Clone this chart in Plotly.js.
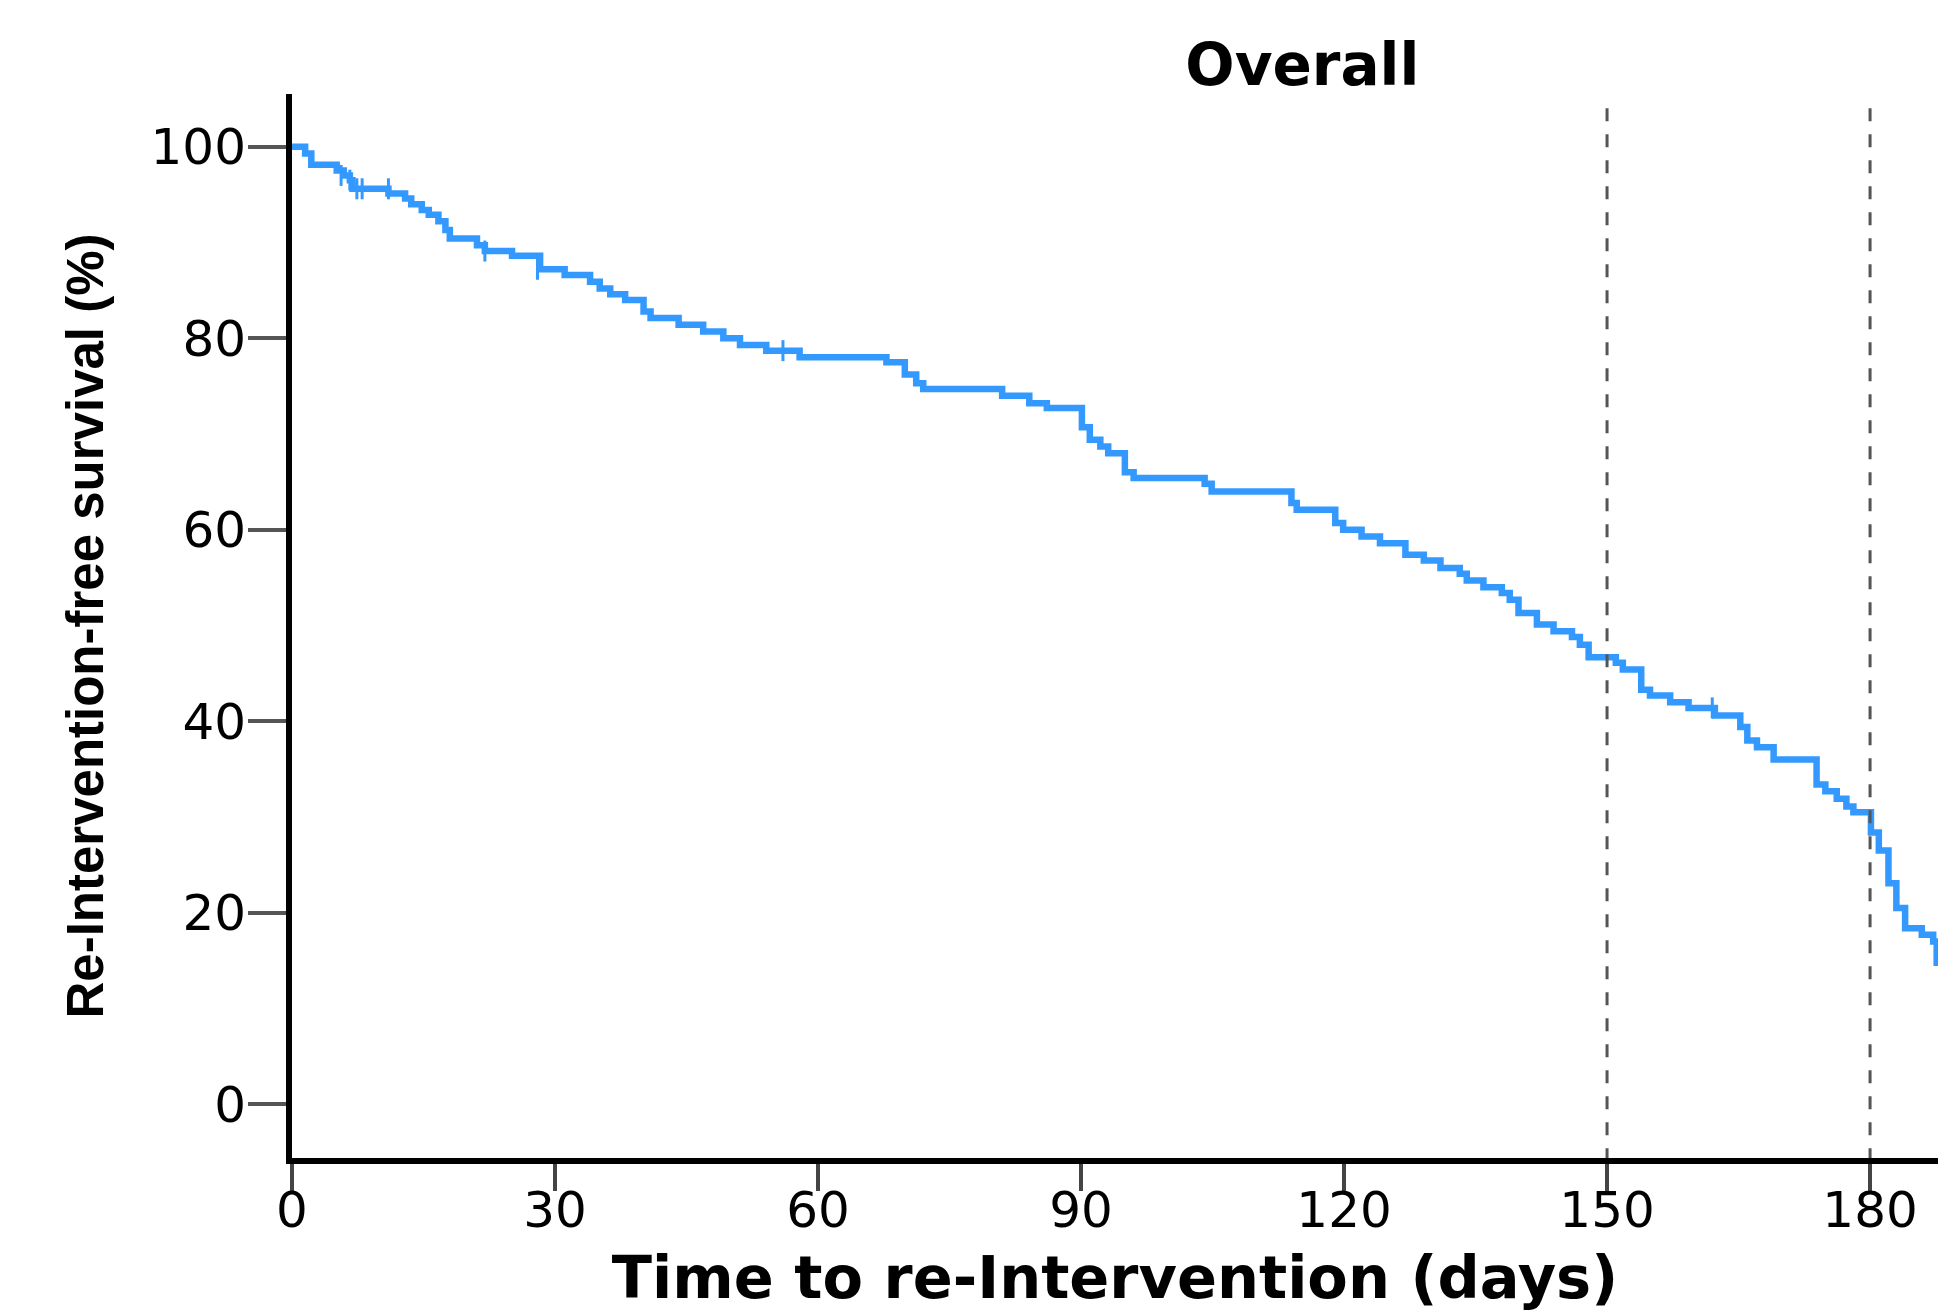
<!DOCTYPE html>
<html>
<head>
<meta charset="utf-8">
<script src="https://cdn.plot.ly/plotly-3.0.1.min.js"></script>
<style>
  html, body { margin: 0; padding: 0; background: #ffffff; }
  #chart { width: 1938px; height: 1312px; }
</style>
</head>
<body>
<div id="chart"></div>
<script>
// Kaplan-Meier step curve: time of each drop (days) and survival (%) after it
const days = [0, 1.5, 2.2, 5.1, 5.9, 6.6, 6.9, 11.0, 12.9, 13.6, 14.8, 15.6, 16.7, 17.5, 18.0,
  21.1, 22.0, 25.1, 28.3, 31.1, 34.0, 35.1, 36.3, 38.0, 40.1, 40.9, 44.1, 46.9, 49.2, 51.1,
  54.1, 57.9, 67.8, 69.9, 71.2, 72.0, 81.0, 84.1, 86.1, 90.1, 91.0, 92.2, 93.1, 95.0, 96.0,
  104.1, 104.9, 114.0, 114.6, 119.0, 119.9, 122.0, 124.1, 127.0, 129.1, 131.0, 133.2, 134.0,
  135.9, 138.0, 138.9, 139.9, 142.0, 143.9, 146.0, 146.9, 147.9, 151.0, 151.8, 153.9, 154.9,
  157.2, 159.3, 162.3, 165.2, 166.0, 167.1, 169.0, 173.9, 174.9, 176.2, 177.3, 178.1, 180.1,
  181.0, 182.1, 183.0, 184.0, 185.9, 187.2, 187.6, 192.0];
const survival = [100, 99.3, 98.1, 97.5, 97.0, 96.5, 95.6, 95.1, 94.6, 94.0, 93.4, 92.9, 92.2, 91.3, 90.4,
  89.7, 89.1, 88.6, 87.2, 86.6, 85.9, 85.2, 84.6, 84.0, 82.8, 82.1, 81.4, 80.7, 80.0, 79.3,
  78.7, 78.0, 77.5, 76.2, 75.3, 74.7, 74.0, 73.2, 72.7, 70.7, 69.4, 68.7, 68.0, 66.0, 65.4,
  64.8, 64.0, 62.8, 62.1, 60.7, 60.0, 59.3, 58.6, 57.4, 56.8, 56.0, 55.4, 54.7,
  54.0, 53.4, 52.7, 51.3, 50.1, 49.4, 48.8, 48.0, 46.7, 46.1, 45.4, 43.3, 42.7,
  42.0, 41.4, 40.6, 39.4, 38.0, 37.3, 36.0, 33.4, 32.7, 31.9, 31.1, 30.5, 28.4,
  26.5, 23.1, 20.5, 18.4, 17.7, 17.0, 14.8, 14.8];

// Censored observations (tick marks on the curve)
const censorDays = [5.6, 6.6, 7.4, 8.0, 11.0, 22.0, 28.0, 56.0, 162.0];
const censorSurvival = [97.0, 96.5, 95.6, 95.6, 95.6, 89.1, 87.2, 78.7, 41.4];

// Reference (dashed) time points
const refDays = [150, 180];

// Axis ticks
const xTicks = [0, 30, 60, 90, 120, 150, 180];
const yTicks = [0, 20, 40, 60, 80, 100];

const titleText = 'Overall';
const xTitle = 'Time to re-Intervention (days)';
const yTitle = 'Re-Intervention-free survival (%)';

const blue = 'rgb(51,153,255)';

const traces = [
  {
    x: days, y: survival, type: 'scatter', mode: 'lines',
    line: { shape: 'hv', color: blue, width: 6.5 },
    hoverinfo: 'skip', showlegend: false
  },
  {
    x: censorDays, y: censorSurvival, type: 'scatter', mode: 'markers',
    marker: { symbol: 'line-ns', size: 15, color: blue, line: { color: blue, width: 3 } },
    hoverinfo: 'skip', showlegend: false
  }
];

const shapes = refDays.map(d => ({
  type: 'line', xref: 'x', yref: 'y', x0: d, x1: d, y0: 104, y1: -5.6,
  line: { color: '#555555', width: 3, dash: '13px,13px' }, layer: 'above'
}));

const layout = {
  width: 1938, height: 1312,
  paper_bgcolor: '#ffffff', plot_bgcolor: '#ffffff',
  margin: { l: 292, r: 0, t: 94, b: 154 },
  showlegend: false,
  title: {
    text: titleText, xref: 'container', x: 0.672, xanchor: 'center',
    yref: 'container', y: 0.9505, yanchor: 'middle',
    font: { family: 'DejaVu Sans', size: 58, color: '#000000', weight: 'bold' }
  },
  xaxis: {
    range: [0, 187.75], showgrid: false, zeroline: false,
    showline: true, linecolor: '#000000', linewidth: 6,
    tickmode: 'array', tickvals: xTicks, ticktext: xTicks.map(String),
    ticks: 'outside', ticklen: 27, tickwidth: 4, tickcolor: '#444444',
    ticklabelstandoff: -24,
    tickfont: { family: 'DejaVu Sans', size: 50, color: '#000000' },
    title: { text: xTitle, standoff: 24,
      font: { family: 'DejaVu Sans', size: 59, color: '#000000', weight: 'bold' } }
  },
  yaxis: {
    range: [-5.6, 105.5], showgrid: false, zeroline: false,
    showline: true, linecolor: '#000000', linewidth: 6,
    tickmode: 'array', tickvals: yTicks, ticktext: yTicks.map(String),
    ticks: 'outside', ticklen: 38, tickwidth: 4, tickcolor: '#555555',
    ticklabelstandoff: -8,
    tickfont: { family: 'DejaVu Sans', size: 50, color: '#000000' },
    title: { text: yTitle, standoff: 33,
      font: { family: '"Liberation Sans", Arial, sans-serif', size: 51, color: '#000000', weight: 'bold' } }
  },
  shapes: shapes
};

Plotly.newPlot('chart', traces, layout, { displayModeBar: false, staticPlot: true });
</script>
</body>
</html>
